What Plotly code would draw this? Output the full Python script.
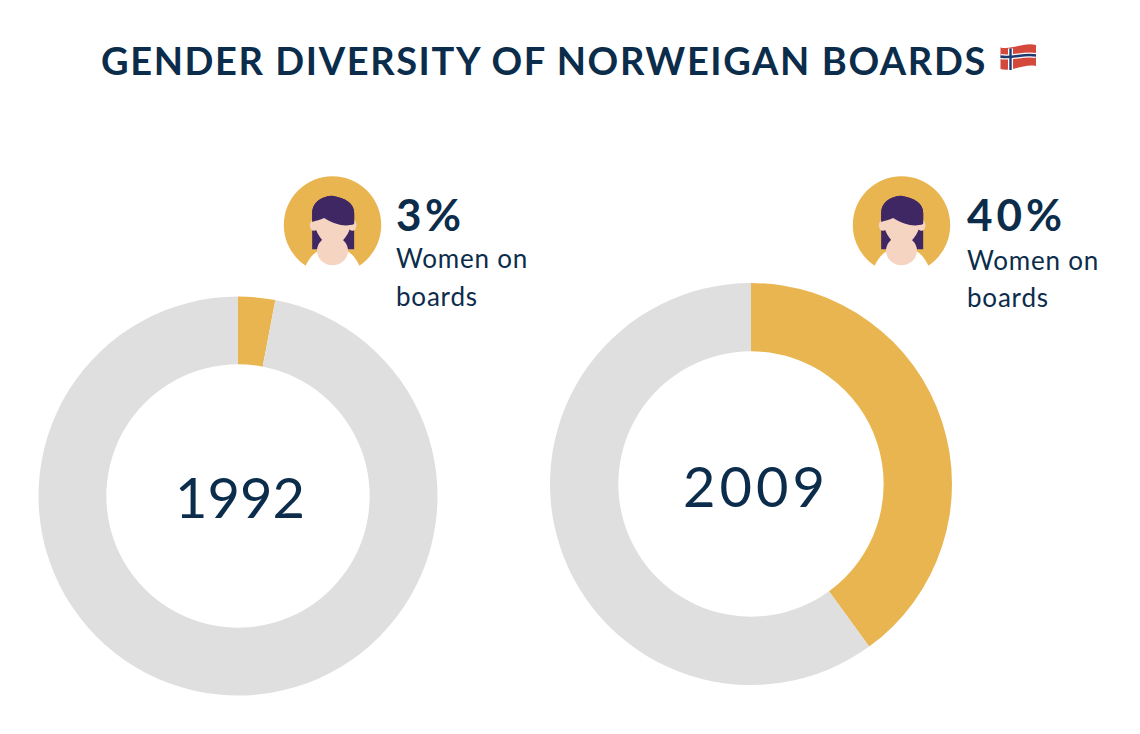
import plotly.graph_objects as go

WIDTH = 1140
HEIGHT = 734

labels = ["Women", "Men"]
share_1992 = [3, 97]
share_2009 = [40, 60]
years = ["1992", "2009"]
women_pct = ["3%", "40%"]
caption_lines = ["Women on", "boards"]
title_text = "GENDER DIVERSITY OF NORWEIGAN BOARDS"

GOLD = "#E9B550"
GREY = "#DFDFDF"
NAVY = "#0B2C4A"
HAIR = "#3F2764"
SKIN = "#F5D5C2"
FONT = "Lato"


def px(x):
    return x / WIDTH


def py(y):
    return 1 - y / HEIGHT


def path(points):
    # tokens are either svg commands or (x, y) pixel pairs
    out = []
    for p in points:
        out.append(p if isinstance(p, str) else f"{px(p[0]):.5f},{py(p[1]):.5f}")
    return " ".join(out)


def path_shape(points, fill=None, line=None, width=0):
    return dict(type="path", xref="paper", yref="paper", path=path(points),
                fillcolor=fill or "rgba(0,0,0,0)",
                line=dict(color=line or "rgba(0,0,0,0)", width=width))


def circle_shape(cx, cy, rx, ry, fill):
    return dict(type="circle", xref="paper", yref="paper", fillcolor=fill, line=dict(width=0),
                x0=px(cx - rx), x1=px(cx + rx), y0=py(cy + ry), y1=py(cy - ry))


def icon(cx, cy):
    def p(x, y):
        return (cx + (x - 187) / 3, cy + (y - 181) / 3)

    return [
        circle_shape(cx, cy, 48.7, 48.7, GOLD),
        path_shape(["M", p(106, 304), "C", p(116, 282), p(130, 264), p(150, 256), "L", p(224, 256),
                    "C", p(245, 264), p(258, 282), p(268, 304), "L", p(285, 340), "L", p(90, 340), "Z"], fill="white"),
        path_shape(["M", p(126, 254), "L", p(126, 145), "C", p(126, 115), p(150, 96), p(185, 93),
                    "C", p(225, 100), p(252, 115), p(252, 145), "L", p(252, 254), "Z"], fill=HAIR),
        circle_shape(*p(187, 258), 15.5, 14.5, SKIN),
        circle_shape(*p(131, 182), 4, 5.5, SKIN),
        circle_shape(*p(247, 182), 4, 5.5, SKIN),
        path_shape(["M", p(133, 175), "C", p(135, 205), p(160, 238), p(187, 250),
                    "C", p(215, 238), p(241, 205), p(243, 175), "L", p(243, 140), "L", p(133, 140), "Z"], fill=SKIN),
        path_shape(["M", p(126, 172), "L", p(126, 145), "C", p(126, 115), p(150, 96), p(185, 93),
                    "C", p(225, 100), p(252, 115), p(252, 145), "L", p(252, 178),
                    "C", p(225, 188), p(195, 180), p(162, 160), "C", p(150, 165), p(138, 168), p(126, 172), "Z"], fill=HAIR),
    ]


def flag():
    body = ["M", (1000.5, 47.5), "C", (1012, 50), (1024, 42), (1036, 45), "L", (1036, 66),
            "C", (1024, 63.5), (1012, 72), (1000.5, 69), "Z"]
    cross_h = ["M", (1000.5, 56.5), "C", (1012, 59), (1024, 53), (1036, 55.5)]
    return [
        path_shape(body, fill="#D5493D"),
        path_shape(["M", (1010.5, 48.5), "L", (1010.5, 70)], line="white", width=5),
        path_shape(cross_h, line="white", width=5),
        path_shape(["M", (1010.5, 48.5), "L", (1010.5, 70)], line="#1F3A6E", width=2.4),
        path_shape(cross_h, line="#1F3A6E", width=2.4),
    ]


def donut_domain(cx, cy, r):
    return dict(x=[px(cx - r), px(cx + r)], y=[py(cy + r), py(cy - r)])


def donut(values, cx, cy, r, hole):
    return go.Pie(
        labels=labels, values=values, hole=hole, sort=False, direction="clockwise", rotation=0,
        textinfo="none", hoverinfo="label+percent", showlegend=False, domain=donut_domain(cx, cy, r),
        marker=dict(colors=[GOLD, GREY], line=dict(width=0)))


def text(x, y, s, size, bold=False, anchor="left", spacing=0):
    body = f"<span style='letter-spacing:{spacing}px'>{s}</span>" if spacing else s
    return dict(xref="paper", yref="paper", x=px(x), y=py(y), text=f"<b>{body}</b>" if bold else body,
                showarrow=False, xanchor=anchor, yanchor="middle", align="left",
                font=dict(family=FONT, size=size, color=NAVY))


fig = go.Figure()
fig.add_trace(donut(share_1992, 238, 496, 199.5, 0.66))
fig.add_trace(donut(share_2009, 751, 484, 201, 0.66))

annotations = [
    text(544, 60, title_text, 38, bold=True, anchor="center", spacing=1.6),
    text(240, 496, years[0], 56, anchor="center"),
    text(756, 485, years[1], 56, anchor="center", spacing=4),
    text(394, 214, women_pct[0], 44, bold=True, spacing=3.5),
    text(965, 214, women_pct[1], 44, bold=True, spacing=4),
    text(394, 258, caption_lines[0], 26, spacing=0.8),
    text(394, 296, caption_lines[1], 26, spacing=0.8),
    text(965, 260, caption_lines[0], 26, spacing=0.8),
    text(965, 297, caption_lines[1], 26, spacing=0.8),
]

fig.update_layout(
    width=WIDTH, height=HEIGHT, margin=dict(l=0, r=0, t=0, b=0), paper_bgcolor="white",
    annotations=annotations, shapes=icon(332.5, 225) + icon(901.5, 225) + flag())

fig.write_html("out.html", config=dict(displayModeBar=False),
               post_script="document.body.style.margin='0';")
